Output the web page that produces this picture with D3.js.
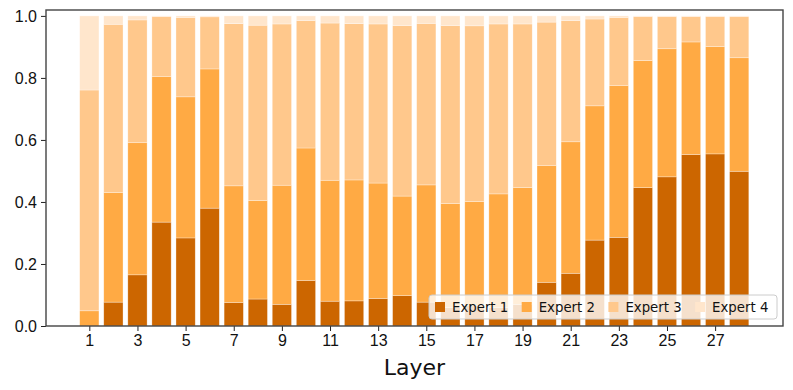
<!DOCTYPE html>
<html>
<head>
<meta charset="utf-8">
<script src="https://cdn.jsdelivr.net/npm/d3@7"></script>
<style>
  body { margin: 0; background: #fff; }
  svg { display: block; font-family: "DejaVu Sans", sans-serif; }
</style>
</head>
<body>
<main></main>
<script>
// layers 1..28
const layers = d3.range(1, 29);
const experts = ["Expert 1", "Expert 2", "Expert 3", "Expert 4"];
const colors = ["#cc6600", "#ffaa44", "#ffc88c", "#ffe6cc"];

// share of tokens routed to each expert, per layer
const expert1 = [0.000, 0.077, 0.165, 0.335, 0.284, 0.380, 0.076, 0.087, 0.070, 0.147,
  0.080, 0.081, 0.089, 0.098, 0.077, 0.060, 0.065, 0.060, 0.070, 0.141,
  0.170, 0.277, 0.286, 0.446, 0.481, 0.553, 0.555, 0.499];
const expert2 = [0.049, 0.353, 0.426, 0.470, 0.455, 0.449, 0.376, 0.318, 0.384, 0.427,
  0.390, 0.390, 0.372, 0.321, 0.378, 0.335, 0.336, 0.366, 0.376, 0.377,
  0.424, 0.433, 0.490, 0.410, 0.413, 0.363, 0.346, 0.366];
const expert3 = [0.712, 0.543, 0.396, 0.193, 0.256, 0.168, 0.523, 0.565, 0.520, 0.411,
  0.507, 0.504, 0.513, 0.550, 0.521, 0.574, 0.567, 0.548, 0.528, 0.462,
  0.391, 0.280, 0.219, 0.142, 0.104, 0.082, 0.097, 0.133];
const expert4 = [0.239, 0.027, 0.013, 0.002, 0.005, 0.003, 0.025, 0.030, 0.026, 0.015,
  0.023, 0.025, 0.026, 0.031, 0.024, 0.031, 0.032, 0.026, 0.026, 0.020,
  0.015, 0.010, 0.005, 0.002, 0.002, 0.002, 0.002, 0.002];

const xTicks = d3.range(1, 29, 2);
const yTicks = [0, 0.2, 0.4, 0.6, 0.8, 1.0];

// table for d3.stack
const table = layers.map((l, i) => ({
  layer: l,
  "Expert 1": expert1[i],
  "Expert 2": expert2[i],
  "Expert 3": expert3[i],
  "Expert 4": expert4[i],
}));

const W = 793, H = 390;
const margin = { top: 10, right: 10, bottom: 64, left: 46 };

const svg = d3.select("main").append("svg")
  .attr("width", W)
  .attr("height", H);

const x = d3.scaleLinear().domain([-0.8, 29.82]).range([margin.left, W - margin.right]);
const y = d3.scaleLinear().domain([0, 1.019]).range([H - margin.bottom, margin.top]);
const barW = x(0.8) - x(0);

const color = d3.scaleOrdinal().domain(experts).range(colors);
const series = d3.stack().keys(experts)(table);

// bars
svg.append("g")
  .selectAll("g")
  .data(series)
  .join("g")
  .attr("fill", (d) => color(d.key))
  .selectAll("rect")
  .data((d) => d)
  .join("rect")
  .attr("x", (d) => x(d.data.layer) - barW / 2)
  .attr("y", (d) => y(d[1]))
  .attr("width", barW)
  .attr("height", (d) => y(d[0]) - y(d[1]))
  .attr("stroke", "#fff")
  .attr("stroke-opacity", 0.5)
  .attr("stroke-width", 0.6);

// axes
const xAxis = svg.append("g")
  .attr("transform", `translate(0,${H - margin.bottom})`)
  .call(d3.axisBottom(x).tickValues(xTicks).tickSize(5).tickPadding(4).tickFormat(d3.format("d")));
const yAxis = svg.append("g")
  .attr("transform", `translate(${margin.left},0)`)
  .call(d3.axisLeft(y).tickValues(yTicks).tickSize(5).tickPadding(4).tickFormat(d3.format(".1f")));

[xAxis, yAxis].forEach((a) => {
  a.select(".domain").remove();
  a.selectAll("line").attr("stroke", "#222").attr("stroke-width", 1);
  a.selectAll("text").attr("fill", "#111").style("font-size", "16px");
});

// frame
svg.append("rect")
  .attr("x", margin.left)
  .attr("y", margin.top)
  .attr("width", W - margin.left - margin.right)
  .attr("height", H - margin.top - margin.bottom)
  .attr("fill", "none")
  .attr("stroke", "#444")
  .attr("stroke-width", 1.4);

// x label
svg.append("text")
  .attr("x", (margin.left + W - margin.right) / 2)
  .attr("y", 375)
  .attr("text-anchor", "middle")
  .style("font-size", "22px")
  .attr("fill", "#111")
  .text("Layer");

// legend, one row in the lower right
const legend = svg.append("g").attr("transform", "translate(429,295)");
legend.append("rect")
  .attr("width", 348)
  .attr("height", 24)
  .attr("rx", 3)
  .attr("fill", "#fff")
  .attr("fill-opacity", 0.8)
  .attr("stroke", "#ccc")
  .attr("stroke-width", 1);

const item = legend.selectAll(".item")
  .data(experts)
  .join("g")
  .attr("class", "item")
  .attr("transform", (d, i) => `translate(${6 + i * 86.7},7)`);
item.append("rect")
  .attr("width", 10)
  .attr("height", 10)
  .attr("fill", (d) => color(d));
item.append("text")
  .attr("x", 17)
  .attr("y", 5)
  .attr("dy", "0.35em")
  .style("font-size", "13.3px")
  .attr("fill", "#111")
  .text((d) => d);
</script>
</body>
</html>
